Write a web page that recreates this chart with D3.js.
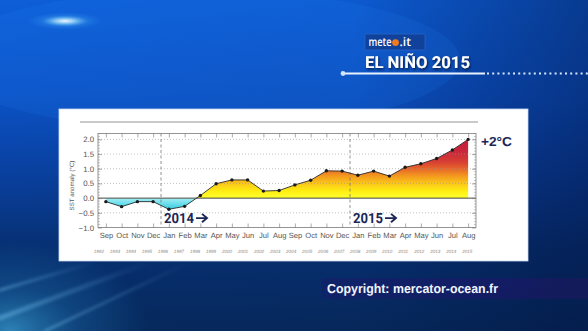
<!DOCTYPE html>
<html>
<head>
<meta charset="utf-8">
<script src="https://cdn.jsdelivr.net/npm/d3@7"></script>
<style>
  html, body { margin: 0; padding: 0; background: #062858; overflow: hidden; }
  svg { display: block; }
  text { text-rendering: geometricPrecision; }
</style>
</head>
<body>
<svg id="chart" width="588" height="331"></svg>
<script>
// Monthly Niño SST anomaly, Sep 2013 – Aug 2015
const months = ["Sep","Oct","Nov","Dec","Jan","Feb","Mar","Apr","May","Jun","Jul","Aug",
                "Sep","Oct","Nov","Dec","Jan","Feb","Mar","Apr","May","Jun","Jul","Aug"];
const sstAnomaly = [-0.12, -0.29, -0.12, -0.12, -0.38, -0.28, 0.09, 0.49, 0.62, 0.62, 0.24, 0.26,
                    0.45, 0.61, 0.93, 0.92, 0.78, 0.92, 0.75, 1.05, 1.17, 1.35, 1.64, 2.0];
const yearLabels = ["1992","1993","1994","1995","1996","1997","1998","1999","2000","2001","2002","2003",
                    "2004","2005","2006","2007","2008","2009","2010","2011","2012","2013","2014","2015"];
const yTicks = [-1.0, -0.5, 0.0, 0.5, 1.0, 1.5, 2.0];
const yearDividers = [3.5, 15.5];
const yearDividerLabels = ["2014", "2015"];
const peakLabel = "+2°C";

const svg = d3.select("#chart");
const W = 588, H = 331;
const defs = svg.append("defs");

// ---------- background ----------
const bgV = defs.append("linearGradient").attr("id", "bgV").attr("x1", 0).attr("y1", 0).attr("x2", 0).attr("y2", 1);
[[0, "#0d5ed8"], [0.3, "#0b51c4"], [0.55, "#093e9a"], [0.75, "#073072"], [1, "#06295c"]]
  .forEach(([o, c]) => bgV.append("stop").attr("offset", o).attr("stop-color", c));
const bgH = defs.append("linearGradient").attr("id", "bgH").attr("x1", 0).attr("y1", 0).attr("x2", 1).attr("y2", 0);
[[0, "#02103a", 0], [0.6, "#02103a", 0.05], [1, "#02103a", 0.45]]
  .forEach(([o, c, a]) => bgH.append("stop").attr("offset", o).attr("stop-color", c).attr("stop-opacity", a));
const glow = defs.append("radialGradient").attr("id", "glow");
[[0, "#ffffff", 0.95], [0.25, "#bff2ff", 0.7], [0.6, "#5cc8ff", 0.2], [1, "#3aa0ff", 0]]
  .forEach(([o, c, a]) => glow.append("stop").attr("offset", o).attr("stop-color", c).attr("stop-opacity", a));
const cornerGlow = defs.append("radialGradient").attr("id", "cornerGlow");
[[0, "#3aa0d4", 0.75], [0.5, "#1f74b4", 0.35], [1, "#1f74b4", 0]]
  .forEach(([o, c, a]) => cornerGlow.append("stop").attr("offset", o).attr("stop-color", c).attr("stop-opacity", a));
const streak = defs.append("linearGradient").attr("id", "streak").attr("x1", 0).attr("y1", 1).attr("x2", 1).attr("y2", 0);
[[0, "#8ad8ff", 0.35], [1, "#8ad8ff", 0]]
  .forEach(([o, c, a]) => streak.append("stop").attr("offset", o).attr("stop-color", c).attr("stop-opacity", a));
const blur = defs.append("filter").attr("id", "soft").attr("x", "-20%").attr("y", "-20%").attr("width", "140%").attr("height", "140%");
blur.append("feGaussianBlur").attr("stdDeviation", 1.5);

svg.append("rect").attr("width", W).attr("height", H).attr("fill", "url(#bgV)");
svg.append("rect").attr("width", W).attr("height", H).attr("fill", "url(#bgH)");
svg.append("ellipse").attr("cx", 200).attr("cy", 60).attr("rx", 260).attr("ry", 70)
  .attr("fill", "#2a8cff").attr("opacity", 0.12);
svg.append("ellipse").attr("cx", 65).attr("cy", 21).attr("rx", 38).attr("ry", 9).attr("fill", "url(#glow)");
svg.append("ellipse").attr("cx", 10).attr("cy", 331).attr("rx", 140).attr("ry", 90).attr("fill", "url(#cornerGlow)");
const streaks = svg.append("g").attr("filter", "url(#soft)");
[[0, 318, 150, 262, 5], [45, 331, 190, 262, 3], [0, 290, 95, 262, 3]].forEach(([x1, y1, x2, y2, w]) => {
  streaks.append("line").attr("x1", x1).attr("y1", y1).attr("x2", x2).attr("y2", y2)
    .attr("stroke", "url(#streak)").attr("stroke-width", w).attr("stroke-linecap", "round");
});

// ---------- title block ----------
const shadow = defs.append("filter").attr("id", "shadow").attr("x", "-10%").attr("y", "-30%").attr("width", "130%").attr("height", "170%");
shadow.append("feDropShadow").attr("dx", 1).attr("dy", 1.5).attr("stdDeviation", 1).attr("flood-color", "#00163f").attr("flood-opacity", 0.9);

svg.append("rect").attr("x", 365).attr("y", 34).attr("width", 60).attr("height", 16).attr("rx", 1.5)
  .attr("fill", "#10429c").attr("stroke", "#2f6bd0").attr("stroke-width", 0.6);
svg.append("text").attr("x", 368.5).attr("y", 46)
  .attr("font-family", "'Open Sans', 'Liberation Sans', sans-serif").attr("font-weight", 600)
  .attr("font-size", 12).attr("fill", "#ffffff").attr("textLength", 23).attr("lengthAdjust", "spacingAndGlyphs").text("mete");
svg.append("circle").attr("cx", 395.5).attr("cy", 42.6).attr("r", 3.4).attr("fill", "#f57a1c");
svg.append("text").attr("x", 399.5).attr("y", 46)
  .attr("font-family", "'Open Sans', 'Liberation Sans', sans-serif").attr("font-weight", 600)
  .attr("font-size", 12).attr("fill", "#ffffff").text(".it");

svg.append("text").attr("x", 365).attr("y", 68)
  .attr("font-family", "Roboto, 'Liberation Sans', Arial, sans-serif").attr("font-weight", "bold")
  .attr("font-size", 16.5).attr("fill", "#ffffff").attr("filter", "url(#shadow)")
  .attr("textLength", 105).attr("lengthAdjust", "spacingAndGlyphs").text("EL NIÑO 2015");

svg.append("line").attr("x1", 343).attr("y1", 73.5).attr("x2", 485).attr("y2", 73.5)
  .attr("stroke", "#e8f2ff").attr("stroke-width", 1.8);
svg.append("circle").attr("cx", 343).attr("cy", 73.5).attr("r", 2.4).attr("fill", "#cfe4ff");
svg.append("line").attr("x1", 487).attr("y1", 73.5).attr("x2", 588).attr("y2", 73.5)
  .attr("stroke", "#d8e8ff").attr("stroke-width", 1.8).attr("stroke-dasharray", "2,3.2");

// ---------- white chart panel ----------
svg.append("rect").attr("x", 59).attr("y", 109).attr("width", 469).attr("height", 152)
  .attr("fill", "#ffffff").attr("stroke", "#c9d9f2").attr("stroke-width", 0.8);

// ---------- scales ----------
const x = d3.scaleLinear().domain([-0.5, months.length - 0.5]).range([98, 476]);
const y = d3.scaleLinear().domain([-1.0, 2.2]).range([227.5, 133.5]);
const [xL, xR] = x.range();
const [yB, yT] = y.range();

// rule above the plot
svg.append("line").attr("x1", 80).attr("y1", 122).attr("x2", 478).attr("y2", 122)
  .attr("stroke", "#b8b8b8").attr("stroke-width", 1.4);

// ---------- fills ----------
const warm = defs.append("linearGradient").attr("id", "warm").attr("gradientUnits", "userSpaceOnUse")
  .attr("x1", 0).attr("y1", y(0)).attr("x2", 0).attr("y2", y(2.0));
[[0, "#ffff30"], [0.12, "#ffee12"], [0.25, "#fbc61a"], [0.38, "#f3981f"], [0.5, "#e6662a"], [0.62, "#d63e33"], [0.8, "#c9263b"], [1, "#c41c3e"]]
  .forEach(([o, c]) => warm.append("stop").attr("offset", o).attr("stop-color", c));
const cool = defs.append("linearGradient").attr("id", "cool").attr("gradientUnits", "userSpaceOnUse")
  .attr("x1", 0).attr("y1", y(0)).attr("x2", 0).attr("y2", y(-0.4));
[[0, "#a4eef6"], [1, "#2ccadf"]].forEach(([o, c]) => cool.append("stop").attr("offset", o).attr("stop-color", c));

defs.append("clipPath").attr("id", "above").append("rect")
  .attr("x", xL).attr("y", yT).attr("width", xR - xL).attr("height", y(0) - yT);
defs.append("clipPath").attr("id", "below").append("rect")
  .attr("x", xL).attr("y", y(0)).attr("width", xR - xL).attr("height", yB - y(0));

const area = d3.area().x((d, i) => x(i)).y0(y(0)).y1(d => y(d));
svg.append("path").datum(sstAnomaly).attr("d", area).attr("fill", "url(#warm)").attr("clip-path", "url(#above)");
svg.append("path").datum(sstAnomaly).attr("d", area).attr("fill", "url(#cool)").attr("clip-path", "url(#below)");

// ---------- grid ----------
const g = svg.append("g");
g.selectAll("line.grid").data(yTicks.filter(v => v !== 0 && v > y.domain()[0])).join("line")
  .attr("x1", xL).attr("x2", xR).attr("y1", d => y(d)).attr("y2", d => y(d))
  .attr("stroke", "#9a9a9a").attr("stroke-width", 0.6).attr("stroke-dasharray", "1,2");
g.append("line").attr("x1", xL).attr("x2", xR).attr("y1", y(0)).attr("y2", y(0))
  .attr("stroke", "#333").attr("stroke-width", 0.9);
g.selectAll("line.div").data(yearDividers).join("line")
  .attr("x1", d => x(d)).attr("x2", d => x(d)).attr("y1", yT).attr("y2", yB)
  .attr("stroke", "#777").attr("stroke-width", 0.8).attr("stroke-dasharray", "3,2.5");

// ---------- line and points ----------
const line = d3.line().x((d, i) => x(i)).y(d => y(d));
svg.append("path").datum(sstAnomaly).attr("d", line).attr("fill", "none").attr("stroke", "#2a2a2a").attr("stroke-width", 0.9);
svg.selectAll("circle.pt").data(sstAnomaly).join("circle")
  .attr("cx", (d, i) => x(i)).attr("cy", d => y(d)).attr("r", 1.7).attr("fill", "#1a1a1a");

// ---------- frame and ticks ----------
svg.append("rect").attr("x", xL).attr("y", yT).attr("width", xR - xL).attr("height", yB - yT)
  .attr("fill", "none").attr("stroke", "#7a7a7a").attr("stroke-width", 0.8);
const axes = svg.append("g").attr("font-family", "'Liberation Sans', Arial, sans-serif");

const yAxisL = d3.axisLeft(y).tickValues(yTicks).tickSize(-4).tickPadding(4).tickFormat(d3.format(".1f"));
const gL = axes.append("g").attr("transform", `translate(${xL},0)`).call(yAxisL);
const yAxisR = d3.axisRight(y).tickValues(yTicks).tickSize(-4).tickFormat("");
const gR = axes.append("g").attr("transform", `translate(${xR},0)`).call(yAxisR);
const minor = d3.range(-1.0, 2.21, 0.1);
[[xL, 1], [xR, -1]].forEach(([px, s]) => {
  axes.append("g").selectAll("line").data(minor).join("line")
    .attr("x1", px).attr("x2", px + s * 2).attr("y1", d => y(d)).attr("y2", d => y(d))
    .attr("stroke", "#888").attr("stroke-width", 0.5);
});

const xAxisB = d3.axisBottom(x).tickValues(d3.range(months.length)).tickSize(-4).tickPadding(5)
  .tickFormat(i => months[i]);
const gB = axes.append("g").attr("transform", `translate(0,${yB})`).call(xAxisB);
const xAxisT = d3.axisTop(x).tickValues(d3.range(months.length)).tickSize(-4).tickFormat("");
const gT = axes.append("g").attr("transform", `translate(0,${yT})`).call(xAxisT);

[gL, gR, gB, gT].forEach(gg => {
  gg.select(".domain").remove();
  gg.selectAll(".tick line").attr("stroke", "#777").attr("stroke-width", 0.6);
  gg.selectAll("text").attr("fill", "#555").attr("font-size", 7.6);
});
gL.selectAll("text").text(d => d < 0 ? "−" + d3.format(".1f")(-d) : d3.format(".1f")(d)).attr("font-size", 7.8);

// year row under the months
axes.append("g").selectAll("text").data(yearLabels).join("text")
  .attr("x", (d, i) => x(i) - 7 + i * 0.27).attr("y", 253)
  .attr("text-anchor", "middle").attr("font-size", 4.6).attr("font-style", "italic")
  .attr("fill", "#8a8a8a").text(d => d);

// y axis title
axes.append("text").attr("transform", `translate(74,${(yT + yB) / 2 + 5}) rotate(-90)`)
  .attr("text-anchor", "middle").attr("font-size", 6.2).attr("fill", "#555").text("SST anomaly (°C)");

// ---------- annotations ----------
const ann = svg.append("g").attr("font-family", "Roboto, 'DejaVu Sans', sans-serif")
  .attr("font-weight", "bold").attr("fill", "#1b2656");
const yrText = ann.selectAll("text.yr").data(yearDividers).join("text")
  .attr("x", d => x(d) + 3).attr("y", y(-0.85)).attr("font-size", 14);
yrText.append("tspan").attr("textLength", 30).attr("lengthAdjust", "spacingAndGlyphs")
  .text((d, i) => yearDividerLabels[i]);
// arrow drawn after each year label
ann.selectAll("path.arrow").data(yearDividers).join("path")
  .attr("d", d => {
    const x0 = x(d) + 35, x1 = x(d) + 46, yy = y(-0.85) - 5;
    return `M${x0},${yy}H${x1 - 1}M${x1 - 5},${yy - 4.2}L${x1},${yy}L${x1 - 5},${yy + 4.2}`;
  })
  .attr("fill", "none").attr("stroke", "#1b2656").attr("stroke-width", 1.9);

ann.append("text").attr("x", xR + 5).attr("y", y(sstAnomaly[sstAnomaly.length - 1]) + 7)
  .attr("font-family", "'Liberation Sans', Arial, sans-serif")
  .attr("font-size", 13).attr("textLength", 31).attr("lengthAdjust", "spacingAndGlyphs").text(peakLabel);

// ---------- copyright ----------
const band = defs.append("linearGradient").attr("id", "band").attr("x1", 0).attr("y1", 0).attr("x2", 1).attr("y2", 0);
[[0, "#171c6a", 0.55], [0.7, "#1c176a", 0.6], [1, "#261560", 0.45]]
  .forEach(([o, c, a]) => band.append("stop").attr("offset", o).attr("stop-color", c).attr("stop-opacity", a));
svg.append("rect").attr("x", 322).attr("y", 278).attr("width", 266).attr("height", 21).attr("fill", "url(#band)");
svg.append("text").attr("x", 327).attr("y", 293)
  .attr("font-family", "'Liberation Sans', Arial, sans-serif").attr("font-weight", "bold")
  .attr("font-size", 13).attr("fill", "#f2f6ff").attr("textLength", 171).attr("lengthAdjust", "spacingAndGlyphs")
  .text("Copyright: mercator-ocean.fr");
</script>
</body>
</html>
